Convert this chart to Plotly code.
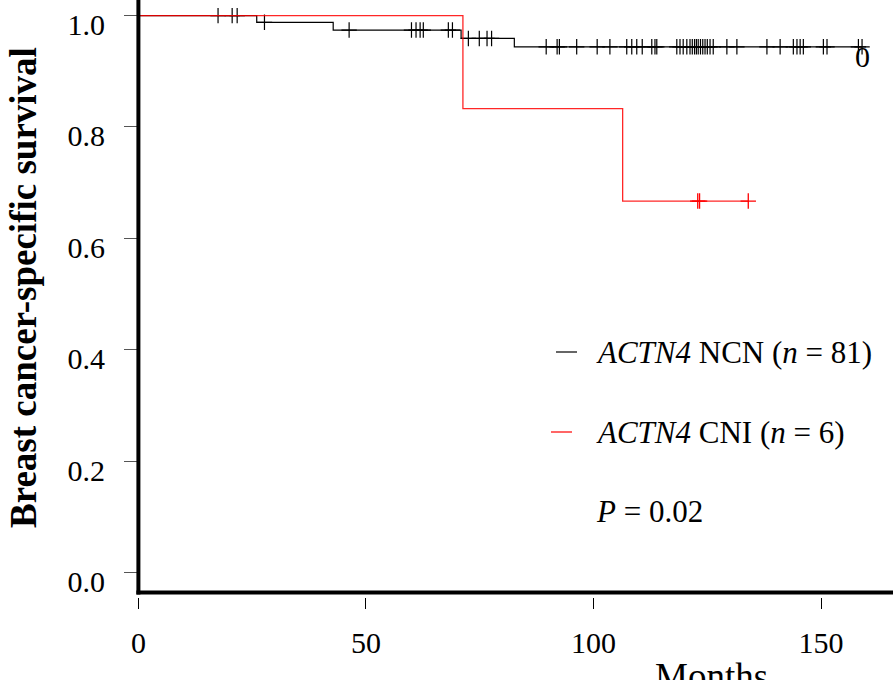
import plotly.graph_objects as go

# ---------------- data ----------------
# ACTN4 NCN (n = 81): Kaplan-Meier steps (time in months, survival)
ncn_time = [0, 26.0, 42.8, 70.9, 82.6, 159.0]
ncn_surv = [1.0, 0.988, 0.974, 0.959, 0.944, 0.944]
# censoring times
ncn_cens = [17.5, 20.6, 21.7, 27.7, 46.3, 60.0, 61.0, 61.9, 62.6, 68.1, 69.0,
            72.5, 74.9, 76.6, 77.6, 89.6, 92.0, 92.5, 96.3, 100.8, 103.6,
            107.3, 108.4, 109.5, 110.7, 112.8, 113.5, 113.9, 118.3, 119.0,
            119.7, 120.5, 121.2, 121.7, 122.2, 122.6, 123.0, 123.5, 124.0,
            124.5, 125.0, 125.6, 126.3, 129.3, 131.5, 138.1, 141.0, 143.9,
            144.7, 145.4, 146.1, 150.5, 151.3, 158.2, 159.0]

# ACTN4 CNI (n = 6)
cni_time = [0, 71.3, 106.4, 134.0]
cni_surv = [1.0, 0.833, 0.667, 0.667]
cni_cens = [122.9, 123.3, 134.0]

x_ticks = [0, 50, 100, 150]
y_ticks = [0.0, 0.2, 0.4, 0.6, 0.8, 1.0]
y_labels = ["0.0", "0.2", "0.4", "0.6", "0.8", "1.0"]

legend_labels = ["<i>ACTN4</i> NCN (<i>n</i> = 81)", "<i>ACTN4</i> CNI (<i>n</i> = 6)"]
p_text = "<i>P</i> = 0.02"


def surv_at(times, survs, t):
    s = survs[0]
    for ti, si in zip(times, survs):
        if ti <= t:
            s = si
    return s


FONT = "Liberation Serif, Times New Roman, serif"
W, H = 893, 680
ML, MR, MT, MB = 138, 0, 0, 83
PW, PH = W - ML - MR, H - MT - MB


def px(x):
    return (x - ML) / PW


def py(y):
    return (H - MB - y) / PH


fig = go.Figure()

fig.add_trace(go.Scatter(x=ncn_time, y=ncn_surv, mode="lines", line_shape="hv",
                         line=dict(color="black", width=1.2), showlegend=False,
                         hoverinfo="skip"))
fig.add_trace(go.Scatter(x=ncn_cens, y=[surv_at(ncn_time, ncn_surv, t) for t in ncn_cens],
                         mode="markers", showlegend=False, hoverinfo="skip",
                         marker=dict(symbol="cross-thin", size=11,
                                     line=dict(color="black", width=1.2))))
fig.add_trace(go.Scatter(x=cni_time, y=cni_surv, mode="lines", line_shape="hv",
                         line=dict(color="rgba(255,0,0,0.85)", width=1.3), showlegend=False,
                         hoverinfo="skip"))
fig.add_trace(go.Scatter(x=cni_cens, y=[surv_at(cni_time, cni_surv, t) for t in cni_cens],
                         mode="markers", showlegend=False, hoverinfo="skip",
                         marker=dict(symbol="cross-thin", size=11,
                                     line=dict(color="red", width=1.3))))

shapes = [
    # thick L-shaped axes
    dict(type="line", xref="paper", yref="paper", x0=px(138.4), x1=px(138.4),
         y0=py(594.5), y1=1.0, line=dict(color="black", width=4), layer="above"),
    dict(type="line", xref="paper", yref="paper", x0=px(136.4), x1=1.0,
         y0=py(592.5), y1=py(592.5), line=dict(color="black", width=4), layer="above"),
    # legend keys
    dict(type="line", xref="paper", yref="paper", x0=px(556), x1=px(577),
         y0=py(352), y1=py(352), line=dict(color="black", width=1.2)),
    dict(type="line", xref="paper", yref="paper", x0=px(551), x1=px(572),
         y0=py(432), y1=py(432), line=dict(color="red", width=1.2)),
]

annotations = [
    dict(text=legend_labels[0], xref="paper", yref="paper", x=px(594), y=py(352),
         xanchor="left", yanchor="middle", showarrow=False,
         font=dict(family=FONT, size=31, color="black")),
    dict(text=legend_labels[1], xref="paper", yref="paper", x=px(594), y=py(432),
         xanchor="left", yanchor="middle", showarrow=False,
         font=dict(family=FONT, size=31, color="black")),
    dict(text=p_text, xref="paper", yref="paper", x=px(594), y=py(511),
         xanchor="left", yanchor="middle", showarrow=False,
         font=dict(family=FONT, size=31, color="black")),
    dict(text="0", xref="paper", yref="paper", x=px(862), y=py(57),
         xanchor="center", yanchor="middle", showarrow=False,
         font=dict(family=FONT, size=30, color="black")),
    dict(text="<b>Breast cancer-specific survival</b>", xref="paper", yref="paper",
         x=px(23), y=py(288), xanchor="center", yanchor="middle", textangle=-90,
         showarrow=False, font=dict(family=FONT, size=37, color="black")),
    dict(text="Months", xref="paper", yref="paper", x=px(711), y=py(676),
         xanchor="center", yanchor="middle", showarrow=False,
         font=dict(family=FONT, size=37, color="black")),
]

fig.update_layout(
    width=W, height=H,
    margin=dict(l=ML, r=MR, t=MT, b=MB, pad=0),
    paper_bgcolor="white", plot_bgcolor="white",
    shapes=shapes, annotations=annotations,
    xaxis=dict(range=[-0.088, 165.8], tickvals=x_ticks, ticks="outside", ticklen=11,
               tickwidth=1, tickcolor="black", showgrid=False, zeroline=False,
               showline=False, tickfont=dict(family=FONT, size=30, color="black"),
               ticklabelstandoff=8, ticklabeloverflow="allow", fixedrange=True),
    yaxis=dict(range=[-0.044, 1.028], tickvals=y_ticks, ticktext=y_labels,
               ticks="outside", ticklen=13, tickwidth=1.2, tickcolor="#555",
               showgrid=False, zeroline=False, showline=False,
               tickfont=dict(family=FONT, size=30, color="black"),
               ticklabelstandoff=13, ticklabelshift=9, ticklabeloverflow="allow",
               fixedrange=True),
)

fig.write_html("out.html")
